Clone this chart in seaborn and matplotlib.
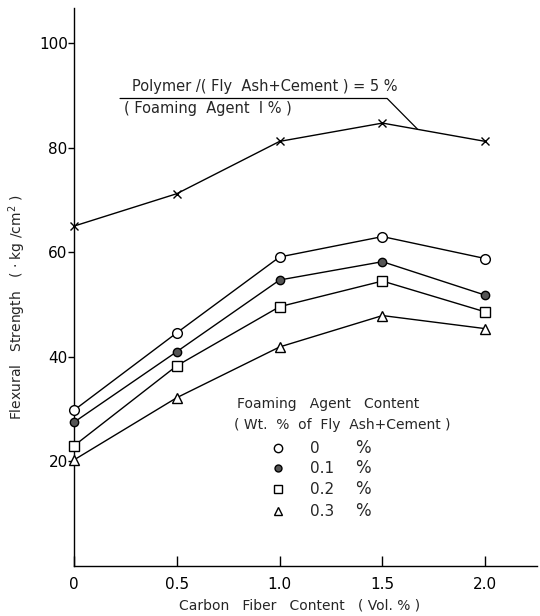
import matplotlib
matplotlib.use("Agg")
import matplotlib.pyplot as plt
import numpy as np
import pandas as pd
import seaborn as sns

sns.set_theme(style="ticks")
plt.rcParams["font.family"] = ["DejaVu Sans"]

# Carbon fiber content (Vol. %)
fiber = [0.0, 0.5, 1.0, 1.5, 2.0]

# Flexural strength (kg/cm^2) for each foaming-agent content
polymer_5 = [65.0, 71.2, 81.2, 84.7, 81.2]
foam_0 = [29.8, 44.6, 59.1, 63.0, 58.8]
foam_01 = [27.5, 41.0, 54.7, 58.2, 51.8]
foam_02 = [23.0, 38.3, 49.6, 54.5, 48.6]
foam_03 = [20.3, 32.2, 41.9, 47.9, 45.4]

legend_labels = ["0", "0.1", "0.2", "0.3"]
yticks = [20, 40, 60, 80, 100]
xticks = [0, 0.5, 1.0, 1.5, 2.0]
xticklabels = ["0", "0.5", "1.0", "1.5", "2.0"]

series = [
    (polymer_5, dict(marker="x", markersize=6, markeredgecolor="black", markeredgewidth=1.0, color="black")),
    (foam_0, dict(marker="o", markersize=7, markerfacecolor="white", markeredgecolor="black", markeredgewidth=1.0, color="black")),
    (foam_01, dict(marker="o", markersize=6, markerfacecolor="#555555", markeredgecolor="black", markeredgewidth=1.0, color="black")),
    (foam_02, dict(marker="s", markersize=7, markerfacecolor="white", markeredgecolor="black", markeredgewidth=1.0, color="black")),
    (foam_03, dict(marker="^", markersize=7, markerfacecolor="white", markeredgecolor="black", markeredgewidth=1.0, color="black")),
]

fig = plt.figure(figsize=(5.4, 6.16), dpi=100)
ax = fig.add_axes([0.137, 0.081, 0.858, 0.906])

for values, style in series:
    df = pd.DataFrame({"fiber": fiber, "strength": values})
    sns.lineplot(data=df, x="fiber", y="strength", ax=ax, sort=False,
                 errorbar=None, linewidth=1.0, clip_on=False, zorder=3, **style)

ax.set_xlim(0, 2.253)
ax.set_ylim(0, 106.7)
ax.set_xticks(xticks)
ax.set_xticklabels(xticklabels)
ax.set_yticks(yticks)
for s in ["top", "right"]:
    ax.spines[s].set_visible(False)
for s in ["left", "bottom"]:
    ax.spines[s].set_linewidth(1.0)
    ax.spines[s].set_color("black")
ax.tick_params(axis="x", direction="in", length=7, width=1.0, pad=8, labelsize=11, colors="black")
ax.tick_params(axis="y", direction="out", length=4, width=1.0, pad=0.5, labelsize=11, colors="black")

ax.set_ylabel("Flexural   Strength   ( · kg /cm$^2$ )", fontsize=10)
ax.yaxis.set_label_coords(-0.1, 0.464)
ax.set_xlabel("Carbon   Fiber   Content   ( Vol. % )", fontsize=10)
ax.xaxis.set_label_coords(0.486, -0.058)

# annotation for the polymer-modified series
ax.text(0.28, 91.6, "Polymer /( Fly  Ash+Cement ) = 5 %", fontsize=10.5, va="center", ha="left")
ax.text(0.243, 87.4, "( Foaming  Agent  I % )", fontsize=10.5, va="center", ha="left")
ax.plot([0.224, 1.523, 1.669], [89.4, 89.4, 83.6], color="black", linewidth=0.9)

# key for the foaming-agent series
ax.text(0.793, 31.0, "Foaming   Agent   Content", fontsize=10, va="center", ha="left")
ax.text(0.78, 26.9, "( Wt.  %  of  Fly  Ash+Cement )", fontsize=10, va="center", ha="left")
key_y = [22.5, 18.7, 14.7, 10.5]
for (values, style), label, yk in zip(series[1:], legend_labels, key_y):
    st = dict(style)
    st["markersize"] = st["markersize"] - 1
    ax.plot([0.993], [yk], linestyle="none", **st)
    ax.text(1.148, yk, label, fontsize=11, va="center", ha="left")
    ax.text(1.367, yk, "%", fontsize=12, va="center", ha="left")

fig.savefig("out.png", dpi=100, facecolor="white")
